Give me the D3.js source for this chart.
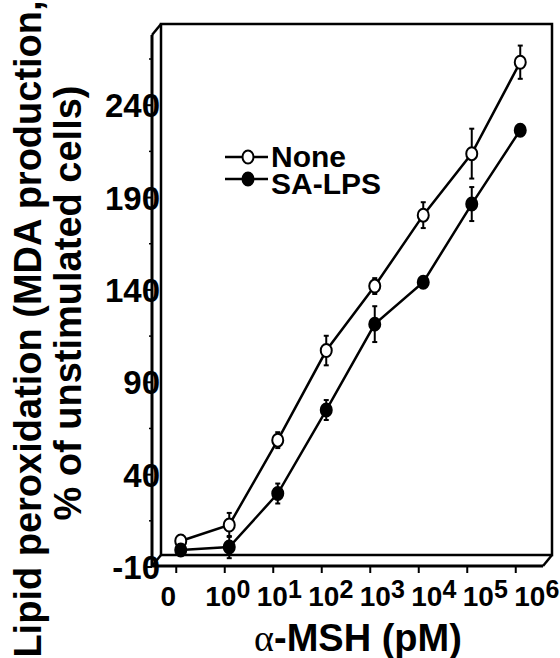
<!DOCTYPE html>
<html>
<head>
<meta charset="utf-8">
<script src="https://cdn.jsdelivr.net/npm/d3@7"></script>
<style>
  body { margin: 0; background: #fff; }
  svg { display: block; }
  text { font-family: "Liberation Sans", Arial, sans-serif; font-weight: bold; fill: #000; }
</style>
</head>
<body>
<div id="chart"></div>
<script>
// categories: alpha-MSH dose, 0 then 10^0 .. 10^6 pM
var categories = ["0", "1", "10", "100", "1000", "10000", "100000", "1000000"];
var exponents = [null, 0, 1, 2, 3, 4, 5, 6];

// lipid peroxidation, % of unstimulated cells
var noneMean = [1.1, 9.8, 55.7, 104.2, 139.1, 177.5, 210.8, 260.3];
var noneErr  = [3, 6.5, 4.3, 8, 4.3, 7, 13.5, 9];
var lpsMean  = [-3.8, -2.2, 26.8, 72, 118.5, 141.2, 183.5, 223.5];
var lpsErr   = [2, 6, 5.4, 5.4, 9.7, 2.7, 9.2, 1.6];

var yTicks = [-10, 40, 90, 140, 190, 240];
var yMinor = [15, 65, 115, 165, 215, 265];

var width = 560, height = 658;
var front = {left: 152, right: 543, top: 35, bottom: 566};
var depth = {dx: 9, dy: -11};

var svg = d3.select("#chart").append("svg")
  .attr("width", width)
  .attr("height", height);

var x = d3.scalePoint().domain(categories).range([152, 540]).padding(0.5);
var y = d3.scaleLinear().domain([-10, 278]).range([567, front.top]);

// points sit half way into the box
function px(d, i) { return x(categories[i]) + depth.dx / 2; }
function py(v) { return y(v) + depth.dy / 2; }

// box frame
var frame = svg.append("g").attr("fill", "none").attr("stroke", "#000");
frame.append("rect")
  .attr("x", front.left + depth.dx).attr("y", front.top + depth.dy)
  .attr("width", front.right - front.left)
  .attr("height", front.bottom - front.top)
  .attr("stroke-width", 2.5);
frame.append("line")
  .attr("x1", front.left).attr("y1", front.top)
  .attr("x2", front.left).attr("y2", front.bottom)
  .attr("stroke-width", 3);
frame.append("line")
  .attr("x1", front.left).attr("y1", front.bottom)
  .attr("x2", front.right).attr("y2", front.bottom)
  .attr("stroke-width", 3);
[[front.left, front.top], [front.left, front.bottom], [front.right, front.bottom]].forEach(function(p) {
  frame.append("line")
    .attr("x1", p[0]).attr("y1", p[1])
    .attr("x2", p[0] + depth.dx).attr("y2", p[1] + depth.dy)
    .attr("stroke-width", 2.5);
});

// y axis ticks and labels
var yAxis = svg.append("g");
yAxis.selectAll(".minor").data(yMinor).enter().append("line")
  .attr("x1", front.left - 3).attr("x2", front.left)
  .attr("y1", function(d) { return y(d); }).attr("y2", function(d) { return y(d); })
  .attr("stroke", "#000").attr("stroke-width", 1.5);
yAxis.selectAll(".major").data(yTicks).enter().append("line")
  .attr("x1", front.left - 5).attr("x2", front.left)
  .attr("y1", function(d) { return y(d); }).attr("y2", function(d) { return y(d); })
  .attr("stroke", "#000").attr("stroke-width", 2);
yAxis.selectAll("text").data(yTicks).enter().append("text")
  .attr("x", 160)
  .attr("y", function(d) { return y(d) + 12; })
  .attr("text-anchor", "end")
  .style("font-size", "33px")
  .text(function(d) { return d; });

// x axis ticks and labels
var xAxis = svg.append("g");
xAxis.selectAll("line").data(categories).enter().append("line")
  .attr("x1", function(d) { return x(d); }).attr("x2", function(d) { return x(d); })
  .attr("y1", front.bottom).attr("y2", front.bottom + 7)
  .attr("stroke", "#000").attr("stroke-width", 2);
var xl = xAxis.selectAll("text").data(categories).enter().append("text")
  .attr("x", function(d, i) { return x(d) + (i === 0 ? -8 : 3 * i); })
  .attr("y", 606)
  .attr("text-anchor", "middle")
  .style("font-size", "28px");
xl.each(function(d, i) {
  var t = d3.select(this);
  if (exponents[i] === null) {
    t.text("0");
  } else {
    t.append("tspan").text("10");
    t.append("tspan").attr("dy", -8).style("font-size", "25px").text(exponents[i]);
  }
});

// axis titles
var xt = svg.append("text")
  .attr("x", 358).attr("y", 651)
  .attr("text-anchor", "middle")
  .style("font-size", "38px");
xt.append("tspan").style("font-family", "'Liberation Serif', serif").style("font-weight", "normal").text("α");
xt.append("tspan").text("-MSH (pM)");

svg.append("text")
  .attr("transform", "translate(41,329) rotate(-90)")
  .attr("text-anchor", "middle")
  .style("font-size", "38px")
  .text("Lipid peroxidation (MDA production,");
svg.append("text")
  .attr("transform", "translate(81,303) rotate(-90)")
  .attr("text-anchor", "middle")
  .style("font-size", "38px")
  .text("% of unstimulated cells)");

// series
var series = [
  {name: "None", mean: noneMean, err: noneErr, fill: "#fff"},
  {name: "SA-LPS", mean: lpsMean, err: lpsErr, fill: "#000"}
];

var line = d3.line()
  .x(function(d, i) { return px(d, i); })
  .y(function(d) { return py(d); });

series.forEach(function(s) {
  var g = svg.append("g");
  g.append("path")
    .attr("d", line(s.mean))
    .attr("fill", "none").attr("stroke", "#000").attr("stroke-width", 2.5);

  var eb = g.selectAll(".eb").data(s.mean).enter().append("g");
  eb.append("line")
    .attr("x1", px).attr("x2", px)
    .attr("y1", function(d, i) { return py(d + s.err[i]); })
    .attr("y2", function(d, i) { return py(d - s.err[i]); })
    .attr("stroke", "#000").attr("stroke-width", 2);
  [1, -1].forEach(function(sign) {
    eb.append("line")
      .attr("x1", function(d, i) { return px(d, i) - 2.5; })
      .attr("x2", function(d, i) { return px(d, i) + 2.5; })
      .attr("y1", function(d, i) { return py(d + sign * s.err[i]); })
      .attr("y2", function(d, i) { return py(d + sign * s.err[i]); })
      .attr("stroke", "#000").attr("stroke-width", 2);
  });

  g.selectAll("ellipse").data(s.mean).enter().append("ellipse")
    .attr("cx", px).attr("cy", function(d) { return py(d); })
    .attr("rx", 5.5).attr("ry", 6.5)
    .attr("fill", s.fill).attr("stroke", "#000").attr("stroke-width", 2);
});

// legend
var legend = svg.append("g");
series.forEach(function(s, i) {
  var ly = 157 + i * 22;
  legend.append("line")
    .attr("x1", 225).attr("x2", 268).attr("y1", ly).attr("y2", ly)
    .attr("stroke", "#000").attr("stroke-width", 2.5);
  legend.append("ellipse")
    .attr("cx", 248).attr("cy", ly).attr("rx", 5.5).attr("ry", 6.5)
    .attr("fill", s.fill).attr("stroke", "#000").attr("stroke-width", 2);
  legend.append("text")
    .attr("x", 271).attr("y", 167 + i * 27)
    .style("font-size", "30px")
    .text(s.name);
});
</script>
</body>
</html>
